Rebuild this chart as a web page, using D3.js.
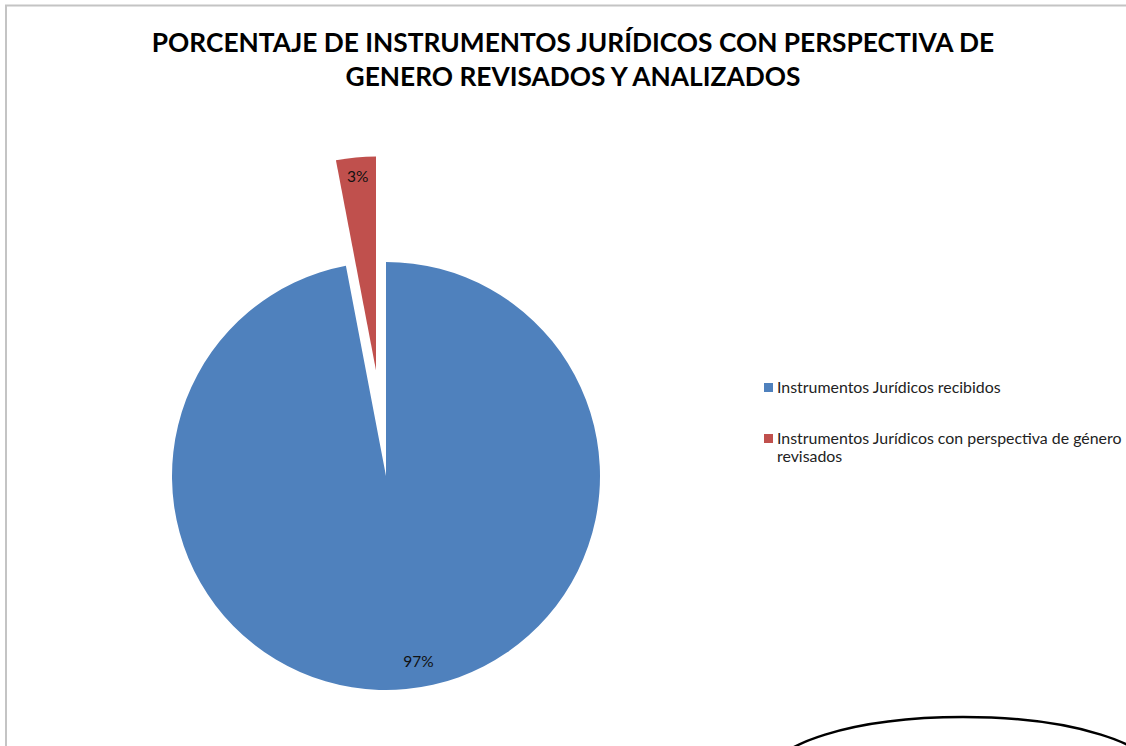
<!DOCTYPE html>
<html>
<head>
<meta charset="utf-8">
<script src="https://cdn.jsdelivr.net/npm/d3@7"></script>
<style>
  body { margin: 0; background: #fff; }
  text { font-family: Lato, "Open Sans", sans-serif; }
</style>
</head>
<body>
<div id="pie"></div>
<script>
const categories = ["Instrumentos Jurídicos recibidos", "Instrumentos Jurídicos con perspectiva de género revisados"];
const values = [97, 3];
const colors = ["#4F81BD", "#C0504D"];
const titleLines = ["PORCENTAJE DE INSTRUMENTOS JURÍDICOS CON PERSPECTIVA DE", "GENERO REVISADOS Y ANALIZADOS"];

const width = 1126, height = 746;
const cx = 386, cy = 476, radius = 214, explode = 106;

const svg = d3.select("#pie")
  .append("svg")
  .attr("width", width)
  .attr("height", height);

// chart frame (top and left edges visible)
svg.append("path")
  .attr("d", `M6,${height} V5.5 H${width}`)
  .attr("fill", "none")
  .attr("stroke", "#c4c4c4")
  .attr("stroke-width", 2);

svg.selectAll("text.title")
  .data(titleLines)
  .join("text")
  .attr("class", "title")
  .attr("x", 573)
  .attr("y", (d, i) => 52 + i * 34)
  .attr("text-anchor", "middle")
  .attr("font-size", 26.3)
  .attr("font-weight", "bold")
  .attr("fill", "#000")
  .text(d => d);

// blue slice starts at 12 o'clock going clockwise, red one takes the rest
const pie = d3.pie().sort(null).startAngle(0).endAngle(2 * Math.PI);
const arcs = pie(values);
const arc = d3.arc().innerRadius(0).outerRadius(radius);
const labelR = [0.87, 0.91];

const g = svg.append("g").attr("transform", `translate(${cx},${cy})`);

const slices = g.selectAll("g.slice")
  .data(arcs)
  .join("g")
  .attr("class", "slice")
  .attr("transform", (d, i) => {
    if (i === 0) return null;
    const mid = (d.startAngle + d.endAngle) / 2;
    return `translate(${Math.sin(mid) * explode},${-Math.cos(mid) * explode})`;
  });

slices.append("path")
  .attr("d", arc)
  .attr("fill", (d, i) => colors[i]);

slices.append("text")
  .attr("transform", (d, i) => {
    const r = radius * labelR[i];
    const c = d3.arc().innerRadius(r).outerRadius(r).centroid(d);
    return `translate(${c[0] + (i === 0 ? 15 : 0)},${c[1]})`;
  })
  .attr("text-anchor", "middle")
  .attr("dy", "0.35em")
  .attr("font-size", 15.5)
  .attr("fill", "#111")
  .text(d => d.data + "%");

// legend
const legend = svg.append("g").attr("transform", "translate(764,383)");
const rows = [[categories[0]], ["Instrumentos Jurídicos con perspectiva de género", "revisados"]];

const item = legend.selectAll("g")
  .data(rows)
  .join("g")
  .attr("transform", (d, i) => `translate(0,${i * 51})`);

item.append("rect")
  .attr("width", 9)
  .attr("height", 9)
  .attr("fill", (d, i) => colors[i]);

item.append("text")
  .attr("x", 13)
  .attr("y", 10)
  .attr("font-size", 15.9)
  .attr("fill", "#222")
  .selectAll("tspan")
  .data(d => d)
  .join("tspan")
  .attr("x", 13)
  .attr("dy", (d, i) => i === 0 ? 0 : 18)
  .text(d => d);

// partial oval drawn in the lower right corner
svg.append("ellipse")
  .attr("cx", 963)
  .attr("cy", 777)
  .attr("rx", 195)
  .attr("ry", 60)
  .attr("fill", "none")
  .attr("stroke", "#000")
  .attr("stroke-width", 2.5);
</script>
</body>
</html>
